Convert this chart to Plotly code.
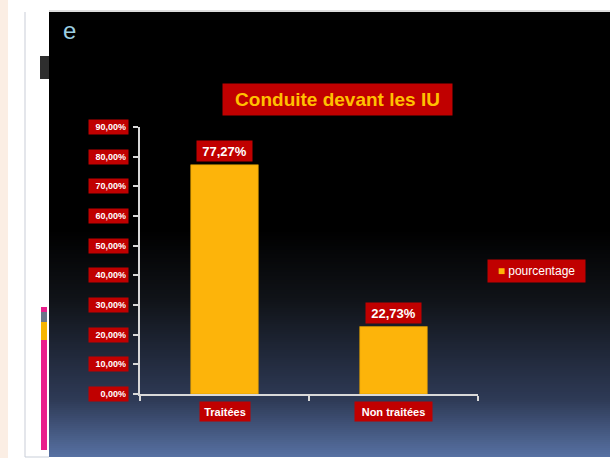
import plotly.graph_objects as go

# ---- data ----
categories = ["Traitées", "Non traitées"]
pourcentage = [0.7727, 0.2273]
value_labels = ["77,27%", "22,73%"]
tick_values = [0, 0.1, 0.2, 0.3, 0.4, 0.5, 0.6, 0.7, 0.8, 0.9]
tick_labels = ["0,00%", "10,00%", "20,00%", "30,00%", "40,00%", "50,00%",
               "60,00%", "70,00%", "80,00%", "90,00%"]
series_name = "pourcentage"
title_text = "Conduite devant les IU"

W, H = 610, 458
RED = "#C00000"
BAR = "#FDB40A"
AXIS = "#D9D9D9"
FONT = "Liberation Sans, Arial, sans-serif"


def px(x):
    return x / W


def py(y):
    return 1 - y / H


shapes = []


def rect(x0, y0, x1, y1, color):
    shapes.append(dict(type="rect", xref="paper", yref="paper", layer="below",
                       x0=px(x0), x1=px(x1), y0=py(y1), y1=py(y0),
                       fillcolor=color, line=dict(width=0)))


# slide frame
rect(0, 0, 8, H, "#FBEEE4")
rect(8, 0, W, H, "#FFFFFF")
rect(24.5, 12, 25.5, 457, "#C9CED8")
rect(25, 456.5, 49, 457.5, "#C9CED8")
rect(49, 10.5, W, 11.5, "#BBBBBB")
# dark panel with gradient
rect(49, 12, W, 232, "#000000")
stops = [(230, (0, 0, 0)), (300, (16, 19, 24)), (400, (46, 58, 86)), (458, (88, 114, 164))]


def col_at(y):
    for (ya, ca), (yb, cb) in zip(stops[:-1], stops[1:]):
        if ya <= y <= yb:
            t = (y - ya) / (yb - ya)
            return "rgb(%d,%d,%d)" % tuple(round(a + (b - a) * t) for a, b in zip(ca, cb))
    return "rgb(%d,%d,%d)" % stops[-1][1]


y = 230
while y < 457:
    rect(49, y, W, min(y + 2.2, 457), col_at(y + 1))
    y += 2
# left decorative bits
rect(40, 56, 49, 79, "#2E2E2E")
rect(41, 307, 47, 312, "#E91E8C")
rect(41, 312, 47, 322, "#6B7689")
rect(41, 322, 47, 340, "#F7B500")
rect(41, 340, 47, 450, "#E91E8C")

fig = go.Figure()
fig.add_trace(go.Bar(x=categories, y=pourcentage, name=series_name,
                     marker=dict(color=BAR, line=dict(color="#D89A00", width=0.6)),
                     showlegend=False))

annotations = []
annotations.append(dict(text="e", xref="paper", yref="paper", x=px(69), y=py(31),
                        showarrow=False, font=dict(size=24, color="#9CCFE2", family=FONT),
                        xanchor="center", yanchor="middle"))
annotations.append(dict(text="<b>%s</b>" % title_text, xref="paper", yref="paper",
                        x=px(337.5), y=py(99.5), showarrow=False, xanchor="center", yanchor="middle",
                        font=dict(size=19, color="#FFC000", family=FONT),
                        bgcolor=RED, borderpad=4, width=221, height=23))
for tv, tl in zip(tick_values, tick_labels):
    annotations.append(dict(text="<b>%s</b>" % tl, xref="paper", yref="y", x=px(129), y=tv,
                            showarrow=False, xanchor="right", yanchor="middle",
                            font=dict(size=9, color="white", family=FONT),
                            bgcolor=RED, borderpad=2, width=35, height=10, align="right"))
cat_widths = [44, 71]
for c, v, lab, cw in zip(categories, pourcentage, value_labels, cat_widths):
    annotations.append(dict(text="<b>%s</b>" % lab, xref="x", yref="y", x=c, y=v, yshift=3,
                            showarrow=False, xanchor="center", yanchor="bottom",
                            font=dict(size=13, color="white", family=FONT),
                            bgcolor=RED, borderpad=3, width=49, height=14))
    annotations.append(dict(text="<b>%s</b>" % c, xref="x", yref="paper", x=c, y=py(411.5),
                            showarrow=False, xanchor="center", yanchor="middle",
                            font=dict(size=11, color="white", family=FONT),
                            bgcolor=RED, borderpad=3, width=cw, height=13))
# legend box
annotations.append(dict(text="<span style='color:%s'>■</span> %s" % (BAR, series_name),
                        xref="paper", yref="paper", x=px(487), y=py(259),
                        xanchor="left", yanchor="top", showarrow=False,
                        font=dict(size=12, color="white", family=FONT),
                        bgcolor=RED, borderpad=4, width=89, height=14))

fig.update_layout(
    width=W, height=H, autosize=False,
    margin=dict(l=0, r=0, t=0, b=0),
    paper_bgcolor="white", plot_bgcolor="rgba(0,0,0,0)",
    bargap=0.6,
    shapes=shapes, annotations=annotations,
    xaxis=dict(domain=[px(140), px(478)], range=[-0.5, 1.5], showticklabels=False,
               showline=True, linecolor=AXIS, linewidth=1.5, ticks="outside",
               tickson="boundaries", ticklen=5, tickcolor=AXIS, tickwidth=1.5,
               showgrid=False, zeroline=False, fixedrange=True),
    yaxis=dict(domain=[py(394), py(127)], range=[0, 0.9], tickvals=tick_values,
               showticklabels=False, showline=True, linecolor=AXIS, linewidth=1.5,
               ticks="outside", ticklen=5, tickcolor=AXIS, tickwidth=1.5,
               showgrid=False, zeroline=False, fixedrange=True),
    showlegend=False,
)

fig.write_html("out.html", post_script="document.body.style.margin='0';",
               config={"displayModeBar": False})
